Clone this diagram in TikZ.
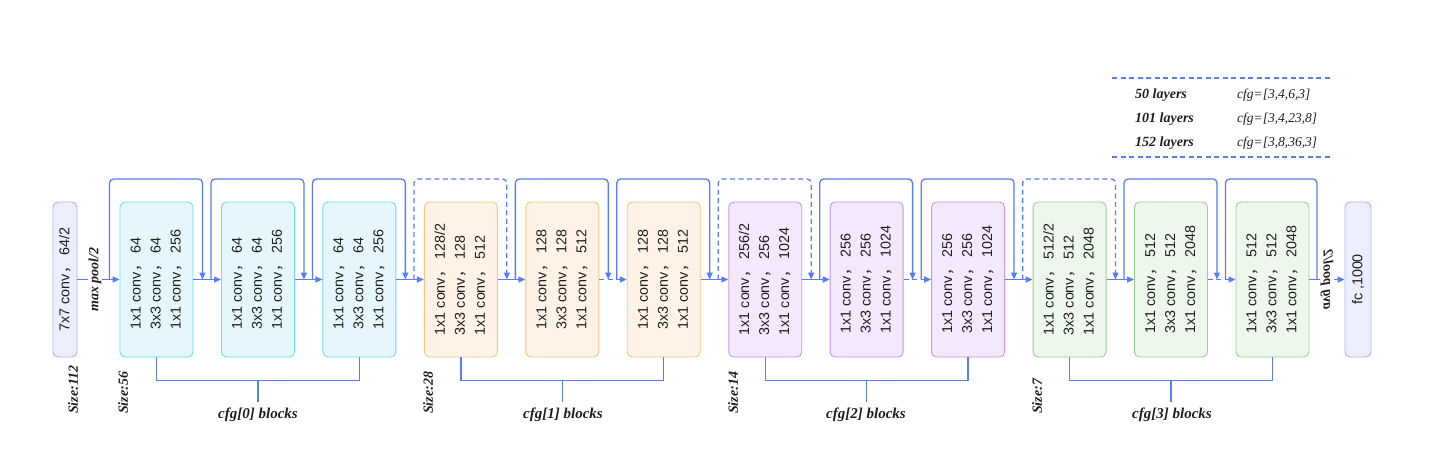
\documentclass[tikz,border=0pt]{standalone}
\usepackage{fontspec}
\usepackage{graphicx}
\usetikzlibrary{arrows.meta}
\newfontfamily\sansf{Liberation Sans}
\newfontfamily\seriff{Liberation Serif}
\newfontfamily\cjk{Noto Sans CJK SC}
\newcommand\fwc{{\cjk ，}}
\newcommand\blktext[3]{\rotatebox{90}{\begin{tabular}{@{}l@{}}1x1 conv\fwc{} #1\\3x3 conv\fwc{} #2\\1x1 conv\fwc{} #3\end{tabular}}}
\definecolor{lineblue}{RGB}{88,124,242}
\definecolor{cyfill}{RGB}{229,247,252}
\definecolor{cybord}{RGB}{110,220,238}
\definecolor{orfill}{RGB}{254,243,230}
\definecolor{orbord}{RGB}{248,196,128}
\definecolor{pufill}{RGB}{244,232,253}
\definecolor{pubord}{RGB}{200,146,240}
\definecolor{grfill}{RGB}{238,247,236}
\definecolor{grbord}{RGB}{146,212,140}
\definecolor{iofill}{RGB}{236,238,252}
\definecolor{iobord}{RGB}{168,178,244}
\definecolor{txtc}{RGB}{30,30,30}
\tikzset{
  blk/.style={draw, line width=0.9pt, rounded corners=5pt, minimum width=73pt, minimum height=155pt, inner sep=0pt, text=txtc, font=\sansf\fontsize{14.3}{20}\selectfont},
  cyb/.style={blk, fill=cyfill, draw=cybord},
  orb/.style={blk, fill=orfill, draw=orbord},
  pub/.style={blk, fill=pufill, draw=pubord},
  grb/.style={blk, fill=grfill, draw=grbord},
  iob/.style={blk, fill=iofill, draw=iobord, minimum width=24pt},
  tip/.style={-{Triangle[length=7pt,width=6pt]}},
  mainarr/.style={draw=lineblue, line width=1.3pt, tip},
  skiparr/.style={draw=lineblue, line width=1.3pt, rounded corners=4pt, tip},
  skipline/.style={draw=lineblue, line width=1.3pt, rounded corners=4pt},
  dsh/.style={dash pattern=on 5pt off 3.5pt},
  brk/.style={draw=lineblue, line width=1.3pt},
  lab/.style={font=\seriff\bfseries\itshape\fontsize{14}{16}\selectfont, text=txtc, inner sep=1pt},
  blab/.style={font=\seriff\bfseries\itshape\fontsize{15}{17}\selectfont, text=txtc, inner sep=1pt},
  leg/.style={font=\seriff\itshape\fontsize{13.5}{15}\selectfont, text=txtc, inner sep=0pt, anchor=west},
  legb/.style={font=\seriff\bfseries\itshape\fontsize{14}{16}\selectfont, text=txtc, inner sep=0pt, anchor=west},
}
\begin{document}
\begin{tikzpicture}[x=1pt,y=-1pt]
\useasboundingbox (0,0) rectangle (1429,469);
% input and output
\node[iob] (c7) at (65,279.5) {\rotatebox{90}{7x7 conv\fwc{} 64/2}};
\node[iob, minimum width=26pt] (fc) at (1358,279.5) {\rotatebox{90}{fc ,1000}};
% blocks
\node[cyb] (b0) at (156.5,279.5) {\blktext{64}{64}{256}};
\node[cyb] (b1) at (257.95,279.5) {\blktext{64}{64}{256}};
\node[cyb] (b2) at (359.4,279.5) {\blktext{64}{64}{256}};
\node[orb] (b3) at (460.85,279.5) {\blktext{128/2}{128}{512}};
\node[orb] (b4) at (562.3,279.5) {\blktext{128}{128}{512}};
\node[orb] (b5) at (663.75,279.5) {\blktext{128}{128}{512}};
\node[pub] (b6) at (765.2,279.5) {\blktext{256/2}{256}{1024}};
\node[pub] (b7) at (866.65,279.5) {\blktext{256}{256}{1024}};
\node[pub] (b8) at (968.1,279.5) {\blktext{256}{256}{1024}};
\node[grb] (b9) at (1069.55,279.5) {\blktext{512/2}{512}{2048}};
\node[grb] (b10) at (1171,279.5) {\blktext{512}{512}{2048}};
\node[grb] (b11) at (1272.45,279.5) {\blktext{512}{512}{2048}};
% main line
\draw[mainarr] (c7.east) -- (b0.west);
\draw[mainarr] (b0.east) -- (b1.west);
\draw[mainarr] (b1.east) -- (b2.west);
\draw[mainarr] (b2.east) -- (b3.west);
\draw[mainarr] (b3.east) -- (b4.west);
\draw[mainarr, dsh] (b4.east) -- (b5.west);
\draw[mainarr] (b5.east) -- (b6.west);
\draw[mainarr] (b6.east) -- (b7.west);
\draw[mainarr, dsh] (b7.east) -- (b8.west);
\draw[mainarr] (b8.east) -- (b9.west);
\draw[mainarr] (b9.east) -- (b10.west);
\draw[mainarr, dsh] (b10.east) -- (b11.west);
\draw[mainarr] (b11.east) -- (fc.west);
% skips
\draw[skiparr] ([xshift=-10pt]b0.west) -- ++(0,-100.5) -| ([xshift=9pt]b0.east);
\draw[skiparr] ([xshift=-10pt]b1.west) -- ++(0,-100.5) -| ([xshift=9pt]b1.east);
\draw[skiparr] ([xshift=-10pt]b2.west) -- ++(0,-100.5) -| ([xshift=9pt]b2.east);
\draw[skiparr, dsh] ([xshift=-10pt]b3.west) -- ++(0,-100.5) -| ([xshift=9pt]b3.east);
\draw[skiparr] ([xshift=-10pt]b4.west) -- ++(0,-100.5) -| ([xshift=9pt]b4.east);
\draw[skiparr] ([xshift=-10pt]b5.west) -- ++(0,-100.5) -| ([xshift=9pt]b5.east);
\draw[skiparr, dsh] ([xshift=-10pt]b6.west) -- ++(0,-100.5) -| ([xshift=9pt]b6.east);
\draw[skiparr] ([xshift=-10pt]b7.west) -- ++(0,-100.5) -| ([xshift=9pt]b7.east);
\draw[skiparr] ([xshift=-10pt]b8.west) -- ++(0,-100.5) -| ([xshift=9pt]b8.east);
\draw[skiparr, dsh] ([xshift=-10pt]b9.west) -- ++(0,-100.5) -| ([xshift=9pt]b9.east);
\draw[skiparr] ([xshift=-10pt]b10.west) -- ++(0,-100.5) -| ([xshift=9pt]b10.east);
\draw[skipline] ([xshift=-10pt]b11.west) -- ++(0,-100.5) -| ([xshift=7.5pt]b11.east);
% pool labels
\node[lab, fill=white, rotate=90] (mp) at (95,279.5) {max pool/2};
\node[lab, fill=white, cm={0,1,1,0,(0,0)}] (ap) at (1327,279.5) {avg pool/2};
% brackets
\draw[brk] (b0.south) -- ++(0,23) -| (b2.south);
\draw[brk] (b1.south) ++(0,23) -- ++(0,22);
\draw[brk] (b3.south) -- ++(0,23) -| (b5.south);
\draw[brk] (b4.south) ++(0,23) -- ++(0,22);
\draw[brk] (b6.south) -- ++(0,23) -| (b8.south);
\draw[brk] (b7.south) ++(0,23) -- ++(0,22);
\draw[brk] (b9.south) -- ++(0,23) -| (b11.south);
\draw[brk] (b10.south) ++(0,23) -- ++(0,22);
\node[blab] (g0) at (258,415) {cfg[0] blocks};
\node[blab] (g1) at (563,415) {cfg[1] blocks};
\node[blab] (g2) at (866,415) {cfg[2] blocks};
\node[blab] (g3) at (1172,415) {cfg[3] blocks};
% size labels
\node[lab, rotate=90, anchor=west] (s0) at (73,415) {Size:112};
\node[lab, rotate=90, anchor=west] (s1) at (123,415) {Size:56};
\node[lab, rotate=90, anchor=west] (s2) at (428,415) {Size:28};
\node[lab, rotate=90, anchor=west] (s3) at (733,415) {Size:14};
\node[lab, rotate=90, anchor=west] (s4) at (1037,415) {Size:7};
% legend
\draw[draw=lineblue, line width=1.2pt, dsh] (1112,78) -- (1330,78);
\draw[draw=lineblue, line width=1.2pt, dsh] (1112,157) -- (1330,157);
\node[legb] (l1) at (1135,95) {50 layers};
\node[legb] (l2) at (1135,119) {101 layers};
\node[legb] (l3) at (1135,143) {152 layers};
\node[leg] (r1) at (1237,95) {cfg=[3,4,6,3]};
\node[leg] (r2) at (1237,119) {cfg=[3,4,23,8]};
\node[leg] (r3) at (1237,143) {cfg=[3,8,36,3]};
\end{tikzpicture}
\end{document}
